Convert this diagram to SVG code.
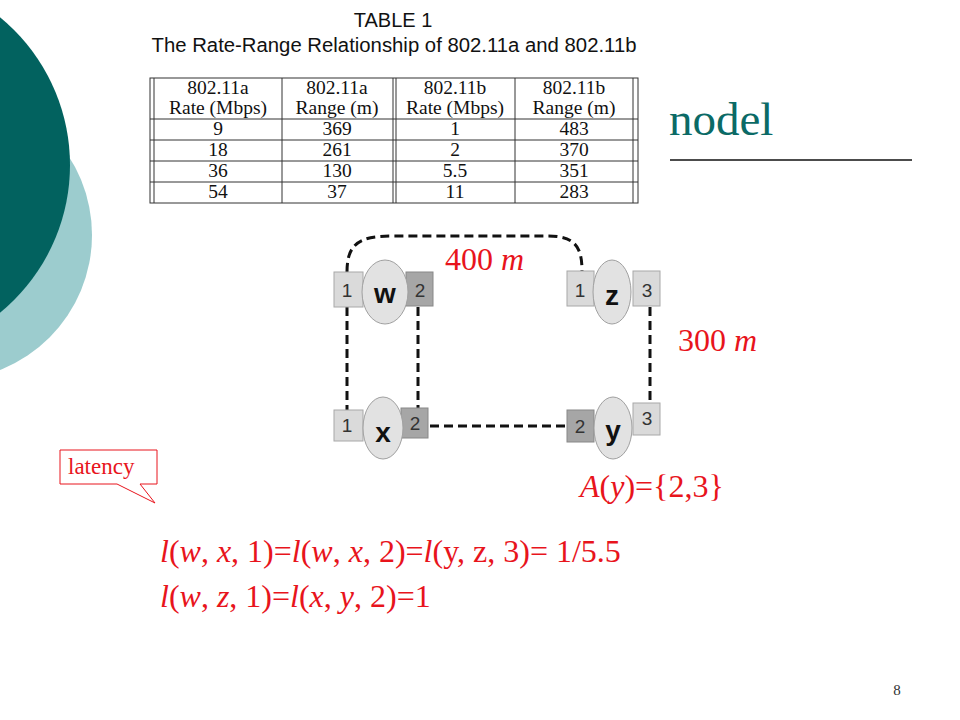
<svg xmlns="http://www.w3.org/2000/svg" width="960" height="720" viewBox="0 0 960 720">
<style>
.tbl{font-family:"Liberation Serif","DejaVu Serif",serif;font-size:19.5px;fill:#111;text-anchor:middle}
.tl{stroke:#333;stroke-width:1;fill:none}
.pl{fill:#dadada;stroke:#a8a8a8;stroke-width:1}
.pd{fill:#a6a6a6;stroke:#888;stroke-width:1}
.el{fill:#e2e2e2;stroke:#a0a0a0;stroke-width:1}
.pn{font-family:"Liberation Sans",Arial,sans-serif;font-size:19px;fill:#333;text-anchor:middle}
.nl{font-family:"Liberation Sans",Arial,sans-serif;font-size:28px;font-weight:bold;fill:#111;text-anchor:middle}
.red{font-family:"Liberation Serif","Times New Roman",serif;font-size:32px;fill:#e8141c}
.dash{stroke:#111;stroke-width:3;stroke-dasharray:9 5;fill:none}
</style>
<!-- background circles -->
<circle cx="-53" cy="235" r="145" fill="#9cccce"/>
<circle cx="-121" cy="165" r="191" fill="#02625f"/>
<!-- title fragment -->
<text x="669" y="135" font-family="Liberation Serif,Times New Roman,serif" font-size="47" fill="#0b6a66">nodel</text>
<line x1="670" y1="160" x2="912" y2="160" stroke="#111" stroke-width="1.5"/>
<!-- table -->
<g id="table">
<rect x="140" y="0" width="510" height="210" fill="#fff"/>
<text x="393" y="27" font-family="Liberation Sans,Arial,sans-serif" font-size="20" text-anchor="middle" fill="#111">TABLE 1</text>
<text x="394" y="52" font-family="Liberation Sans,Arial,sans-serif" font-size="20" text-anchor="middle" fill="#111" textLength="485" lengthAdjust="spacingAndGlyphs">The Rate-Range Relationship of 802.11a and 802.11b</text>
<rect class="tl" x="150" y="78" width="488" height="125"/>
<line class="tl" x1="154" y1="78" x2="154" y2="203"/>
<line class="tl" x1="633" y1="78" x2="633" y2="203"/>
<line class="tl" x1="393" y1="78" x2="393" y2="203"/>
<line class="tl" x1="396" y1="78" x2="396" y2="203"/>
<line class="tl" x1="282" y1="78" x2="282" y2="203"/>
<line class="tl" x1="515" y1="78" x2="515" y2="203"/>
<line class="tl" x1="150" y1="119" x2="638" y2="119"/>
<line class="tl" x1="150" y1="140" x2="638" y2="140"/>
<line class="tl" x1="150" y1="161" x2="638" y2="161"/>
<line class="tl" x1="150" y1="182" x2="638" y2="182"/>
<text class="tbl" x="218" y="94">802.11a</text>
<text class="tbl" x="218" y="114">Rate (Mbps)</text>
<text class="tbl" x="337" y="94">802.11a</text>
<text class="tbl" x="337" y="114">Range (m)</text>
<text class="tbl" x="455" y="94">802.11b</text>
<text class="tbl" x="455" y="114">Rate (Mbps)</text>
<text class="tbl" x="574" y="94">802.11b</text>
<text class="tbl" x="574" y="114">Range (m)</text>
<text class="tbl" x="218" y="135">9</text><text class="tbl" x="337" y="135">369</text><text class="tbl" x="455" y="135">1</text><text class="tbl" x="574" y="135">483</text>
<text class="tbl" x="218" y="156">18</text><text class="tbl" x="337" y="156">261</text><text class="tbl" x="455" y="156">2</text><text class="tbl" x="574" y="156">370</text>
<text class="tbl" x="218" y="177">36</text><text class="tbl" x="337" y="177">130</text><text class="tbl" x="455" y="177">5.5</text><text class="tbl" x="574" y="177">351</text>
<text class="tbl" x="218" y="198">54</text><text class="tbl" x="337" y="198">37</text><text class="tbl" x="455" y="198">11</text><text class="tbl" x="574" y="198">283</text>
</g>
<!-- connectors -->
<g id="connectors">
<path class="dash" d="M347,272 C347,243 360,236 392,236 L548,236 C576,236 582,248 582,271"/>
<line class="dash" x1="347" y1="307" x2="347" y2="410"/>
<line class="dash" x1="418" y1="307" x2="418" y2="408"/>
<line class="dash" x1="430" y1="426" x2="567" y2="426"/>
<line class="dash" x1="650" y1="307" x2="650" y2="410"/>
</g>
<!-- nodes -->
<g id="node-w">
<rect class="pl" x="334" y="272" width="29" height="35"/>
<rect class="pd" x="406" y="272" width="27" height="34"/>
<ellipse class="el" cx="385" cy="292" rx="23" ry="32"/>
<text class="pn" x="347" y="297">1</text>
<text class="pn" x="420" y="297">2</text>
<text class="nl" x="385" y="303">w</text>
</g>
<g id="node-z">
<rect class="pl" x="567" y="271" width="27" height="35"/>
<rect class="pl" x="633" y="271" width="27" height="35"/>
<ellipse class="el" cx="612" cy="292" rx="19" ry="32"/>
<text class="pn" x="580" y="297">1</text>
<text class="pn" x="647" y="297">3</text>
<text class="nl" x="612" y="305">z</text>
</g>
<g id="node-x">
<rect class="pl" x="334" y="410" width="29" height="31"/>
<rect class="pd" x="401" y="408" width="27" height="30"/>
<ellipse class="el" cx="383" cy="428" rx="20" ry="31"/>
<text class="pn" x="347" y="432">1</text>
<text class="pn" x="415" y="430">2</text>
<text class="nl" x="383" y="442">x</text>
</g>
<g id="node-y">
<rect class="pd" x="567" y="410" width="27" height="32"/>
<rect class="pl" x="633" y="403" width="27" height="32"/>
<ellipse class="el" cx="613" cy="428" rx="19" ry="31"/>
<text class="pn" x="580" y="433">2</text>
<text class="pn" x="647" y="425">3</text>
<text class="nl" x="613" y="440">y</text>
</g>
<!-- labels -->
<text class="red" x="445" y="270">400 <tspan font-style="italic">m</tspan></text>
<text class="red" x="678" y="351">300 <tspan font-style="italic">m</tspan></text>
<text class="red" x="580" y="497"><tspan font-style="italic">A</tspan>(<tspan font-style="italic">y</tspan>)={2,3}</text>
<!-- callout -->
<g id="callout">
<path d="M60,450 H157 V484 H140 L155,503 L117,484 H60 Z" fill="#fff" stroke="#e8141c" stroke-width="1"/>
<text x="68" y="474" font-family="Liberation Serif,Times New Roman,serif" font-size="23" fill="#e8141c">latency</text>
</g>
<!-- formulas -->
<text class="red" x="160" y="562"><tspan font-style="italic">l</tspan>(<tspan font-style="italic">w</tspan>, <tspan font-style="italic">x</tspan>, 1)=<tspan font-style="italic">l</tspan>(<tspan font-style="italic">w</tspan>, <tspan font-style="italic">x</tspan>, 2)=<tspan font-style="italic">l</tspan>(y, z, 3)= 1/5.5</text>
<text class="red" x="160" y="607"><tspan font-style="italic">l</tspan>(<tspan font-style="italic">w</tspan>, <tspan font-style="italic">z</tspan>, 1)=<tspan font-style="italic">l</tspan>(<tspan font-style="italic">x</tspan>, <tspan font-style="italic">y</tspan>, 2)=1</text>
<text x="897" y="695" font-family="Liberation Serif,Times New Roman,serif" font-size="15" fill="#333" text-anchor="middle">8</text>
</svg>
